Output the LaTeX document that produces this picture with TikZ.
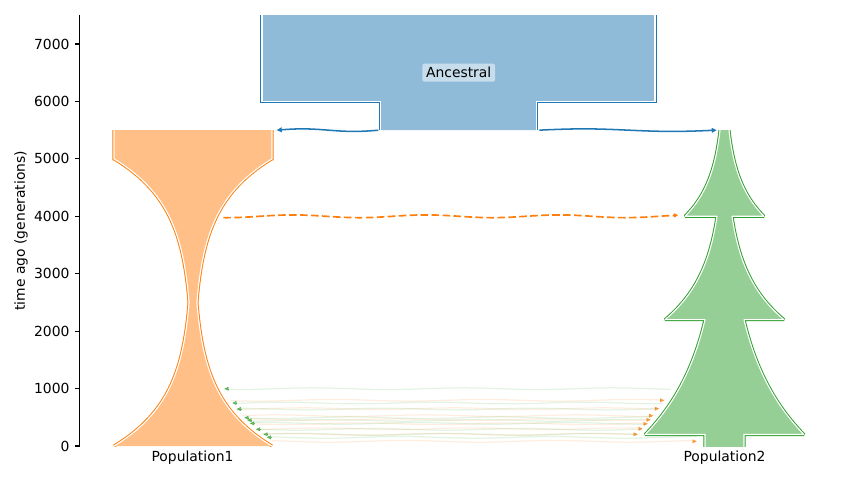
\documentclass[tikz,border=0pt]{standalone}
\usepackage{fontspec}
\setmainfont{DejaVu Sans}
\usetikzlibrary{arrows.meta}
\definecolor{tabblue}{HTML}{1F77B4}
\definecolor{taborange}{HTML}{FF7F0E}
\definecolor{tabgreen}{HTML}{2CA02C}
\definecolor{blueF}{HTML}{8FBBD9}
\definecolor{orangeF}{HTML}{FFBF86}
\definecolor{greenF}{HTML}{95CF95}
% pixel x, generations y
\newcommand\ancL{(262,7700) -- (262,6000) -- (380.5,6000) -- (380.5,5500)}
\newcommand\ancR{(655,7700) -- (655,6000) -- (536.5,6000) -- (536.5,5500)}
\newcommand\ancFill{(262,7700) -- (262,6000) -- (380.5,6000) -- (380.5,5500) -- (536.5,5500) -- (536.5,6000) -- (655,6000) -- (655,7700) -- cycle}
\newcommand\pOneL{(114,5500) -- (114,5000) -- plot[domain=5000:0,samples=140] ({193-hone(\x)},\x)}
\newcommand\pOneR{(272,5500) -- (272,5000) -- plot[domain=5000:0,samples=140] ({193+hone(\x)},\x)}
\newcommand\pOneFill{(114,5500) -- (114,5000) -- plot[domain=5000:0,samples=140] ({193-hone(\x)},\x) -- plot[domain=0:5000,samples=140] ({193+hone(\x)},\x) -- (272,5500) -- cycle}
\newcommand\pTwoL{(720,5500) -- plot[domain=5500:4000,samples=80] ({724.5-hA(\x)},\x) -- (717,4000) -- plot[domain=4000:2200,samples=80] ({724.5-hB(\x)},\x) -- (705,2200) -- plot[domain=2200:200,samples=80] ({724.5-hC(\x)},\x) -- (705,200) -- (705,-100)}
\newcommand\pTwoR{(729,5500) -- plot[domain=5500:4000,samples=80] ({724.5+hA(\x)},\x) -- (732,4000) -- plot[domain=4000:2200,samples=80] ({724.5+hB(\x)},\x) -- (744,2200) -- plot[domain=2200:200,samples=80] ({724.5+hC(\x)},\x) -- (744,200) -- (744,-100)}
\newcommand\pTwoFill{(720,5500) -- plot[domain=5500:4000,samples=80] ({724.5-hA(\x)},\x) -- (717,4000) -- plot[domain=4000:2200,samples=80] ({724.5-hB(\x)},\x) -- (705,2200) -- plot[domain=2200:200,samples=80] ({724.5-hC(\x)},\x) -- (705,200) -- (705,-100) -- (744,-100) -- (744,200) -- plot[domain=200:2200,samples=80] ({724.5+hC(\x)},\x) -- (744,2200) -- plot[domain=2200:4000,samples=80] ({724.5+hB(\x)},\x) -- (732,4000) -- plot[domain=4000:5500,samples=80] ({724.5+hA(\x)},\x) -- cycle}
% migration: colour, t, xstart, xbase, xtip, phase
\newcommand\migline[6]{%
  \draw[migl, #1] plot[domain=#3:#4, samples=60] (\x, {#2+15*sin(\x*2.4+#6)});
  \draw[migtip, #1] (#4,#2) -- (#5,#2);
}
\begin{document}
\begin{tikzpicture}[x=0.72pt, y=0.0413489pt,
  declare function={
    hone(\t)=3.95*exp(2.9957*abs(\t-2500)/2500);
    hA(\t)=4.5*exp(2.172*(5500-\t)/1500);
    hB(\t)=7.5*exp(2.071*(4000-\t)/1800);
    hC(\t)=19.5*exp(1.405*(2200-\t)/2000);
  },
  outerline/.style={line width=2.2pt, line join=miter, miter limit=1.5},
  innerline/.style={draw=white, line width=0.8pt, line join=miter, miter limit=1.5},
  every node/.style={font=\fontsize{10}{12}\selectfont},
  migl/.style={line width=0.9pt, draw opacity=0.13},
  migtip/.style={opacity=0.7, line width=0.3pt, -{Triangle[length=3pt,width=2.8pt]}},
  tickline/.style={line width=0.8pt, black},
]
\useasboundingbox (0,-592.0) rectangle (852,7766.1);

\begin{scope}
\clip (79.5,0) rectangle (852,7500);
% Ancestral
\draw[outerline, tabblue] \ancL;
\draw[outerline, tabblue] \ancR;
\fill[blueF] \ancFill;
\draw[innerline] \ancL;
\draw[innerline] \ancR;
% Population1
\draw[outerline, taborange] \pOneL;
\draw[outerline, taborange] \pOneR;
\fill[orangeF] \pOneFill;
\draw[innerline] \pOneL;
\draw[innerline] \pOneR;
% Population2
\draw[outerline, tabgreen] \pTwoL;
\draw[outerline, tabgreen] \pTwoR;
\fill[greenF] \pTwoFill;
\draw[innerline] \pTwoL;
\draw[innerline] \pTwoR;
\end{scope}

\node[fill=white, fill opacity=0.5, text opacity=1, rounded corners=1.5pt, inner xsep=2.7pt, inner ysep=2.6pt] (anc) at (458.7,6500) {Ancestral};

% ancestry arrows
\draw[tabblue, line width=1.1pt, -{Triangle[length=3.6pt,width=3.4pt]}]
  plot[domain=378.3:276.7, samples=60] (\x, {5500+22*sin((\x-276.7)*3.5)});
\draw[tabblue, line width=1.1pt, -{Triangle[length=3.6pt,width=3.4pt]}]
  plot[domain=539.3:716.7, samples=80] (\x, {5500+22*sin((\x-539.3)*2.03)});

% pulse
\draw[taborange, line width=1.2pt, dash pattern=on 5.5pt off 2.4pt, -{Triangle[length=3.2pt,width=3pt]}]
  plot[domain=223.3:678.3, samples=120] (\x, {4000+24*cos((\x-293)*2.707)});

% migrations Population1 -> Population2
\migline{taborange}{796}{230.4}{660.2}{664.3}{10}
\migline{taborange}{650}{236.3}{654.9}{659}{80}
\migline{taborange}{528}{241.9}{649.2}{653.3}{150}
\migline{taborange}{458}{245.6}{646.6}{650.7}{220}
\migline{taborange}{388}{249.6}{643.6}{647.7}{300}
\migline{taborange}{301}{255.1}{638.6}{642.7}{40}
\migline{taborange}{204}{261.9}{633.6}{637.7}{120}
\migline{taborange}{82}{271.6}{692.6}{696.7}{200}
% migrations Population2 -> Population1
\migline{tabgreen}{998}{671}{228.4}{224.3}{60}
\migline{tabgreen}{749}{662.5}{236.4}{232.3}{130}
\migline{tabgreen}{644}{658.3}{240.8}{236.7}{250}
\migline{tabgreen}{493}{651.8}{248.4}{244.3}{330}
\migline{tabgreen}{448}{649.7}{251.4}{247.3}{20}
\migline{tabgreen}{395}{647.2}{254.1}{250}{170}
\migline{tabgreen}{291}{642}{260.1}{256}{280}
\migline{tabgreen}{204}{637.1}{267.4}{263.3}{90}
\migline{tabgreen}{151}{697}{270.8}{266.7}{210}

% axis
\draw[tickline] (79.5,0) -- (79.5,7500);
\foreach \t in {0,1000,...,7000}{
  \draw[tickline] (79.5,\t) -- ++(-3.5pt,0pt);
  \node[anchor=east, inner sep=0pt, xshift=-7pt] (tick\t) at (79.5,\t) {\t};
}
\node[rotate=90] (ylab) at (21,3750) {time ago (generations)};
\node[anchor=base, inner sep=0pt] (lab1) at (192.5,-273.4) {Population1};
\node[anchor=base, inner sep=0pt] (lab2) at (724.5,-273.4) {Population2};
\end{tikzpicture}
\end{document}
